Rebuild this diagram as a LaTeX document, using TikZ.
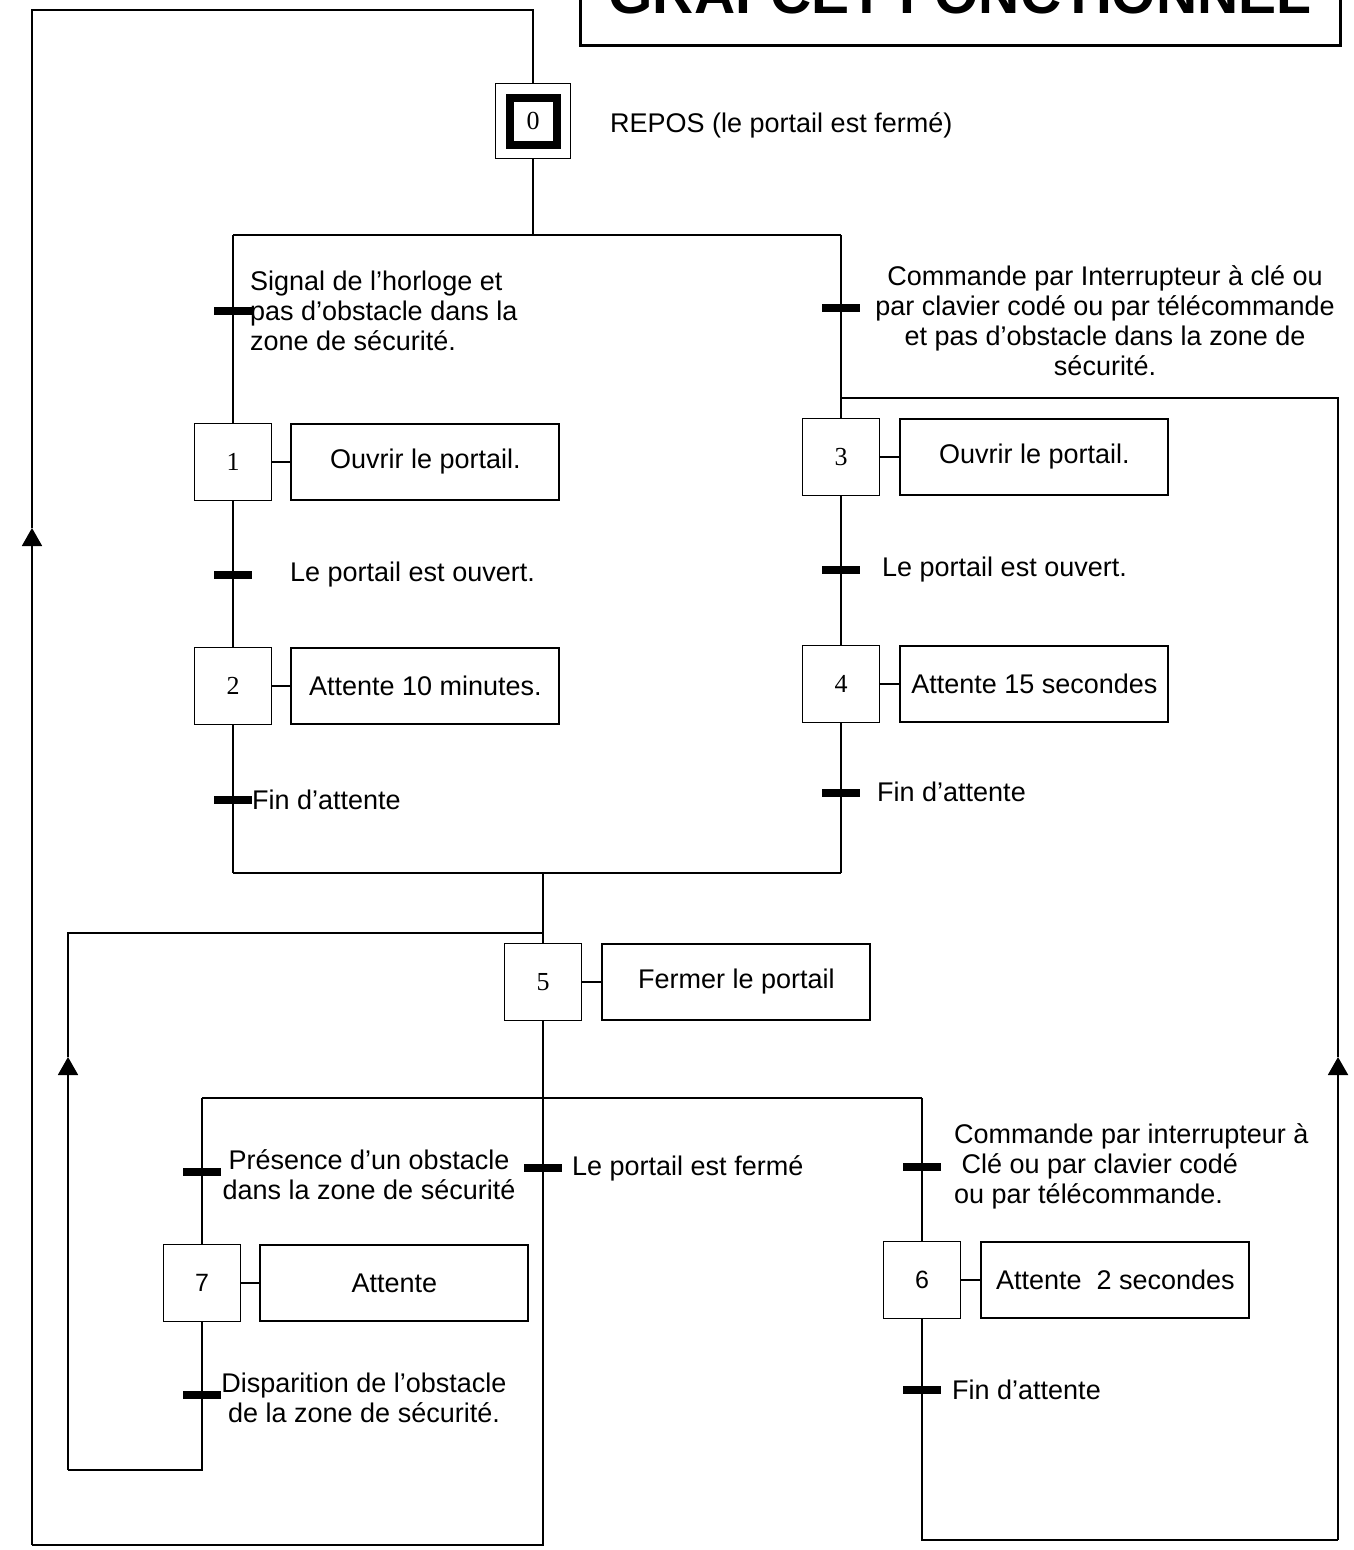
\documentclass[tikz,border=0pt]{standalone}
\usepackage{fontspec}
\setmainfont{Liberation Sans}
\newfontfamily\numfont{Liberation Serif}
\usepackage{tikz}
\usetikzlibrary{positioning}
\usetikzlibrary{arrows.meta}
\tikzstyle{etape}=[rectangle,draw,line width=1.9pt,minimum size=77pt,inner sep=0pt,
        font=\numfont\fontsize{26}{28}\selectfont]
\tikzstyle{action}=[rectangle,draw,line width=1.9pt,minimum width=268pt,
        minimum height=76pt,inner sep=0pt,font=\fontsize{27}{30}\selectfont]
\tikzstyle{barre}=[rectangle,fill=black,minimum width=38pt,minimum height=8pt,inner sep=0pt]
\tikzstyle{recept}=[inner sep=0pt,font=\fontsize{27}{30}\selectfont]
\tikzstyle{liaison}=[line width=1.9pt]
\tikzstyle{retour}=[liaison,-{Triangle[length=18pt,width=20pt]}]
\begin{document}
\begin{tikzpicture}[x=1pt,y=-1pt]
\useasboundingbox (0,0) rectangle (1353,1550);
\node[draw,line width=3pt,minimum width=760pt,inner ysep=31pt,anchor=south,
  font=\bfseries\fontsize{57}{60}\selectfont] (titre) at (960,47) {GRAFCET FONCTIONNEL};
%Etapes
\node[etape,minimum size=75pt] (e0) at (533,121) {};
\node[etape,line width=8pt,minimum size=47pt] (e0i) at (e0) {0};
\node[recept,anchor=west] (r0) at (610,125) {REPOS (le portail est fermé)};
\node[etape] (e1) at (233,462) {1};
\node[etape] (e2) at (233,686) {2};
\node[etape] (e3) at (841,457) {3};
\node[etape] (e4) at (841,684) {4};
\node[etape] (e5) at (543,982) {5};
\node[etape,font=\fontsize{25}{28}\selectfont] (e6) at (922,1280) {6};
\node[etape,font=\fontsize{25}{28}\selectfont] (e7) at (202,1283) {7};
%Actions
\node[action,right=18pt of e1] (a1) {Ouvrir le portail.};
\node[action,right=18pt of e2] (a2) {Attente 10 minutes.};
\node[action,right=19pt of e3] (a3) {Ouvrir le portail.};
\node[action,right=19pt of e4] (a4) {Attente 15 secondes};
\node[action,right=19pt of e5] (a5) {Fermer le portail};
\node[action,right=19pt of e6] (a6) {Attente~~2 secondes};
\node[action,right=18pt of e7] (a7) {Attente};
%Transitions
\node[barre] (t01) at (233,311) {};
\node[barre] (t12) at (233,575) {};
\node[barre] (t2f) at (233,800) {};
\node[barre] (t03) at (841,308) {};
\node[barre] (t34) at (841,570) {};
\node[barre] (t4f) at (841,793) {};
\node[barre] (t50) at (543,1168) {};
\node[barre] (t57) at (202,1172) {};
\node[barre] (t7) at (202,1395) {};
\node[barre] (t56) at (922,1167) {};
\node[barre] (t6) at (922,1390) {};
%Receptivites
\node[recept,anchor=west,align=left] (l01) at (250,311)
  {Signal de l’horloge et\\pas d’obstacle dans la\\zone de sécurité.};
\node[recept,anchor=west] (l12) at (290,575) {Le portail est ouvert.};
\node[recept,anchor=west] (l2f) at (252,800) {Fin d’attente};
\node[recept,align=center] (l03) at (1105,321)
  {Commande par Interrupteur à clé ou\\par clavier codé ou par télécommande\\et pas d’obstacle dans la zone de\\sécurité.};
\node[recept,anchor=west] (l34) at (882,570) {Le portail est ouvert.};
\node[recept,anchor=west] (l4f) at (877,792) {Fin d’attente};
\node[recept,anchor=west] (l50) at (572,1168) {Le portail est fermé};
\node[recept,align=center] (l57) at (369,1175)
  {Présence d’un obstacle\\dans la zone de sécurité};
\node[recept,align=center] (l7) at (364,1398)
  {Disparition de l’obstacle\\de la zone de sécurité.};
\node[recept,anchor=west,align=left] (l56) at (954,1166)
  {Commande par interrupteur à\\~Clé ou par clavier codé\\ou par télécommande.};
\node[recept,anchor=west] (l6) at (952,1390) {Fin d’attente};
%Points de liaison
\coordinate (d0g) at (233,235);
\coordinate (d0d) at (841,235);
\coordinate (j1g) at (233,873);
\coordinate (j1d) at (841,873);
\coordinate (d5g) at (202,1098);
\coordinate (d5d) at (922,1098);
\coordinate (b0) at (32,1545);
\coordinate (f0) at (32,528);
\coordinate (h0) at (32,10);
\coordinate (b7) at (68,1470);
\coordinate (f7) at (68,1057);
\coordinate (h7) at (68,933);
\coordinate (b6) at (1338,1540);
\coordinate (f6) at (1338,1057);
\coordinate (h6) at (1338,398);
%Placement des liaisons
\foreach \e/\a in {e1/a1,e2/a2,e3/a3,e4/a4,e5/a5,e6/a6,e7/a7}
  \draw[liaison] (\e) -- (\a);
\draw[liaison] (e0) -- (e0 |- d0g);
\draw[liaison] (d0g) -- (d0d);
\draw[liaison] (d0g) -- (t01) -- (e1) -- (t12) -- (e2) -- (t2f) -- (j1g);
\draw[liaison] (d0d) -- (t03) -- (e3) -- (t34) -- (e4) -- (t4f) -- (j1d);
\draw[liaison] (j1g) -- (j1d);
\draw[liaison] (e5 |- j1g) -- (e5);
\draw[liaison] (e5) -- (t50);
\draw[liaison] (d5g) -- (d5d);
\draw[liaison] (d5g) -- (t57) -- (e7) -- (t7);
\draw[liaison] (d5d) -- (t56) -- (e6) -- (t6);
\draw[liaison] (t50) |- (b0);
\draw[retour] (b0) -- (f0);
\draw[liaison] (f0) -- (h0) -| (e0);
\draw[liaison] (t7) |- (b7);
\draw[retour] (b7) -- (f7);
\draw[liaison] (f7) |- (e5 |- h7);
\draw[liaison] (t6) |- (b6);
\draw[retour] (b6) -- (f6);
\draw[liaison] (f6) |- (e3 |- h6);
\end{tikzpicture}
\end{document}
